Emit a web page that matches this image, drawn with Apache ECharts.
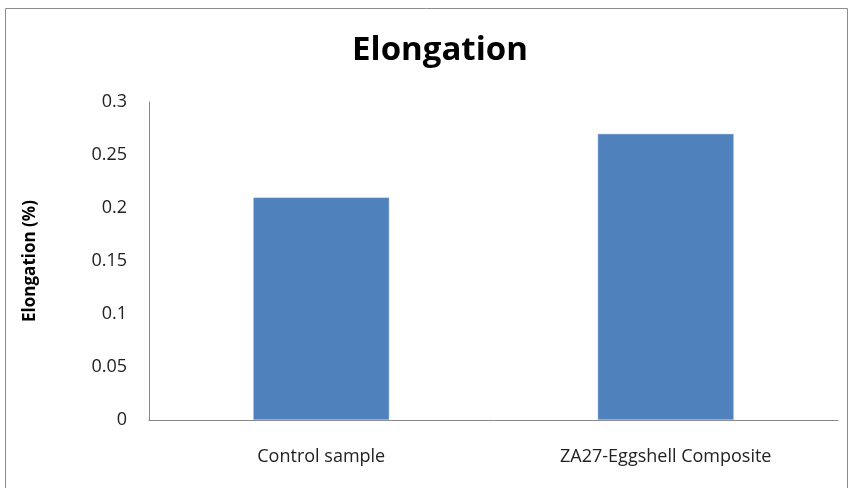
<!DOCTYPE html>
<html><head><meta charset="utf-8">
<script src="https://cdn.jsdelivr.net/npm/echarts@6/dist/echarts.min.js"></script>
<style>html,body{margin:0;padding:0;background:#fff}#c{width:850px;height:488px}</style>
</head><body><div id="c"></div>
<script>
const categories = ['Control sample', 'ZA27-Eggshell Composite'];
const values = [0.21, 0.27];
const yTicks = [0, 0.05, 0.1, 0.15, 0.2, 0.25, 0.3];

const chart = echarts.init(document.getElementById('c'));
chart.setOption({
  animation: false,
  graphic: [{type:'rect', shape:{x:5.5, y:8.5, width:842, height:500}, style:{fill:'none', stroke:'#8c8c8c', lineWidth:1}}],
  title: {text:'Elongation', left:435, top:29, textAlign:'center',
    textStyle:{fontFamily:'Open Sans', fontWeight:'bold', fontSize:33, color:'#000'}},
  grid: {left:149, right:12, top:102, bottom:68},
  xAxis: {type:'category', data:categories,
    axisLine:{lineStyle:{color:'#868686'}}, axisTick:{show:false},
    axisLabel:{fontFamily:'Open Sans', fontSize:18, color:'#222', margin:28}},
  yAxis: {type:'value', min:0, max:0.3, interval:0.05,
    name:'Elongation (%)', nameLocation:'middle', nameGap:110,
    nameTextStyle:{fontFamily:'Open Sans', fontWeight:'bold', fontSize:17, color:'#000'},
    axisLine:{show:true, lineStyle:{color:'#868686'}}, axisTick:{show:false},
    splitLine:{show:false},
    axisLabel:{fontFamily:'Open Sans', fontSize:18, color:'#222', margin:22,
      formatter: v => { const t = yTicks.find(x => Math.abs(x - v) < 1e-9); return t === undefined ? '' : String(t); }}},
  series: [{type:'bar', data:values, barWidth:'39.5%',
    itemStyle:{color:'#4f81bd', borderColor:'#b9cde5', borderWidth:0.5}}]
});
</script></body></html>
